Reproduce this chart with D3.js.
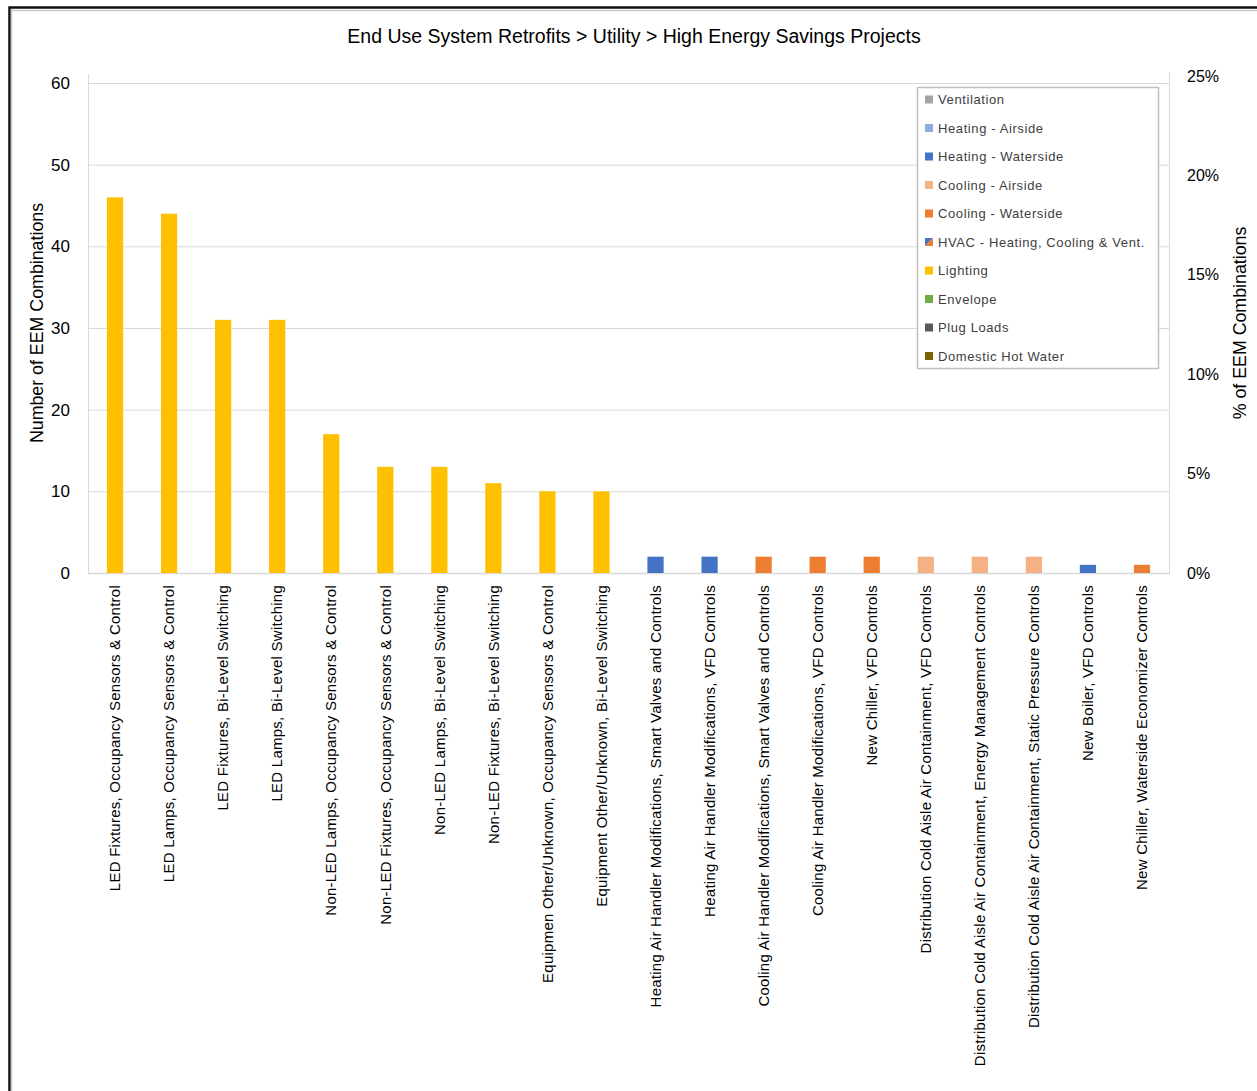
<!DOCTYPE html>
<html>
<head>
<meta charset="utf-8">
<script src="https://d3js.org/d3.v7.min.js"></script>
<style>
  body { margin: 0; background: #fff; }
  svg { display: block; }
</style>
</head>
<body>
<svg id="chart" width="1257" height="1091"></svg>
<script>
// ---------------------------
// DATA
// ---------------------------
var measures = [
  "LED Fixtures, Occupancy Sensors & Control",
  "LED Lamps, Occupancy Sensors & Control",
  "LED Fixtures, Bi-Level Switching",
  "LED Lamps, Bi-Level Switching",
  "Non-LED Lamps, Occupancy Sensors & Control",
  "Non-LED Fixtures, Occupancy Sensors & Control",
  "Non-LED Lamps, Bi-Level Switching",
  "Non-LED Fixtures, Bi-Level Switching",
  "Equipmen Other/Unknown, Occupancy Sensors & Control",
  "Equipment Other/Unknown, Bi-Level Switching",
  "Heating Air Handler Modifications, Smart Valves and Controls",
  "Heating Air Handler Modifications, VFD Controls",
  "Cooling Air Handler Modifications, Smart Valves and Controls",
  "Cooling Air Handler Modifications, VFD Controls",
  "New Chiller, VFD Controls",
  "Distribution Cold Aisle Air Containment, VFD Controls",
  "Distribution Cold Aisle Air Containment, Energy Management Controls",
  "Distribution Cold Aisle Air Containment, Static Pressure Controls",
  "New Boiler, VFD Controls",
  "New Chiller, Waterside Economizer Controls"
];
var counts = [46, 44, 31, 31, 17, 13, 13, 11, 10, 10, 2, 2, 2, 2, 2, 2, 2, 2, 1, 1];
var endUse = [
  "Lighting", "Lighting", "Lighting", "Lighting", "Lighting",
  "Lighting", "Lighting", "Lighting", "Lighting", "Lighting",
  "Heating - Waterside", "Heating - Waterside",
  "Cooling - Waterside", "Cooling - Waterside", "Cooling - Waterside",
  "Cooling - Airside", "Cooling - Airside", "Cooling - Airside",
  "Heating - Waterside", "Cooling - Waterside"
];
var legendNames = ["Ventilation", "Heating - Airside", "Heating - Waterside", "Cooling - Airside",
  "Cooling - Waterside", "HVAC - Heating, Cooling & Vent.", "Lighting", "Envelope",
  "Plug Loads", "Domestic Hot Water"];
var legendColours = ["#a5a5a5", "#8faadc", "#4472c4", "#f4b183", "#ed7d31", "hvac",
  "#ffc000", "#70ad47", "#595959", "#7f6000"];
var leftTicks = [0, 10, 20, 30, 40, 50, 60];
var rightTicks = [0, 0.05, 0.10, 0.15, 0.20, 0.25];

// ---------------------------
// CONSTANTS
// ---------------------------
var plotLeft = 88, plotRight = 1169, plotBottom = 573, plotTop = 83;
var myFont = "'Liberation Sans', Arial, sans-serif";
var gridColour = "#d9d9d9";

var svg = d3.select("#chart");

// frame
svg.append("rect").attr("x", 9.5).attr("y", 7.5).attr("width", 1300).attr("height", 1200)
  .attr("fill", "none").attr("stroke", "#111").attr("stroke-width", 2.5);
svg.append("line").attr("x1", 11.5).attr("x2", 11.5).attr("y1", 9).attr("y2", 1091)
  .attr("stroke", "#c8c8c8").attr("stroke-width", 1.5);
svg.append("line").attr("x1", 11).attr("x2", 1257).attr("y1", 10.5).attr("y2", 10.5)
  .attr("stroke", "#c8c8c8").attr("stroke-width", 1.5);

// scales
var x = d3.scaleBand().domain(measures).range([plotLeft, plotRight]).paddingInner(0.7).paddingOuter(0.35);
var y = d3.scaleLinear().domain([0, 60]).range([plotBottom, plotTop]);
var y2 = d3.scaleLinear().domain([0, 0.25]).range([plotBottom, 76]);
var colourOf = d3.scaleOrdinal().domain(legendNames).range(legendColours);

// gridlines
svg.append("g")
  .selectAll("line")
  .data(leftTicks.slice(1))
  .enter()
  .append("line")
  .attr("x1", plotLeft).attr("x2", plotRight)
  .attr("y1", function(d) { return y(d) + 0.5; })
  .attr("y2", function(d) { return y(d) + 0.5; })
  .attr("stroke", gridColour).attr("stroke-width", 1);

// axis lines
svg.append("line").attr("x1", plotLeft + 0.5).attr("x2", plotLeft + 0.5).attr("y1", 74).attr("y2", plotBottom)
  .attr("stroke", gridColour);
svg.append("line").attr("x1", plotRight + 0.5).attr("x2", plotRight + 0.5).attr("y1", 72).attr("y2", plotBottom)
  .attr("stroke", gridColour);
svg.append("line").attr("x1", plotLeft).attr("x2", plotRight + 1).attr("y1", plotBottom + 0.5).attr("y2", plotBottom + 0.5)
  .attr("stroke", gridColour).attr("stroke-width", 1.5);

// bars
svg.append("g")
  .selectAll("rect")
  .data(counts)
  .enter()
  .append("rect")
  .attr("x", function(d, i) { return x(measures[i]); })
  .attr("y", function(d) { return y(d); })
  .attr("width", x.bandwidth())
  .attr("height", function(d) { return plotBottom - y(d); })
  .attr("fill", function(d, i) { return colourOf(endUse[i]); });

// left axis
var leftAxis = svg.append("g")
  .attr("transform", "translate(" + (plotLeft - 18) + ",0)")
  .call(d3.axisLeft(y).tickValues(leftTicks).tickSize(0).tickPadding(0));
leftAxis.select(".domain").remove();
leftAxis.selectAll("text").attr("font-family", myFont).attr("font-size", 17).attr("fill", "#000");

// right axis
var rightAxis = svg.append("g")
  .attr("transform", "translate(" + (plotRight + 18) + ",0)")
  .call(d3.axisRight(y2).tickValues(rightTicks).tickSize(0).tickPadding(0).tickFormat(d3.format(".0%")));
rightAxis.select(".domain").remove();
rightAxis.selectAll("text").attr("font-family", myFont).attr("font-size", 16).attr("fill", "#000");

// x labels
var xAxis = svg.append("g")
  .attr("transform", "translate(0," + plotBottom + ")")
  .call(d3.axisBottom(x).tickSize(0).tickPadding(0));
xAxis.select(".domain").remove();
xAxis.selectAll("text")
  .attr("font-family", myFont).attr("font-size", 15).attr("fill", "#000")
  .attr("letter-spacing", "0.25px")
  .attr("text-anchor", "end")
  .attr("dy", "0.35em")
  .attr("transform", "translate(0,12) rotate(-90)")
  .attr("x", 0).attr("y", 0);

// title
svg.append("text")
  .attr("x", 634).attr("y", 43)
  .attr("text-anchor", "middle")
  .attr("font-family", myFont).attr("font-size", 19.5)
  .text("End Use System Retrofits > Utility > High Energy Savings Projects");

// axis titles
svg.append("text")
  .attr("transform", "translate(43,323) rotate(-90)")
  .attr("text-anchor", "middle")
  .attr("font-family", myFont).attr("font-size", 17.8)
  .text("Number of EEM Combinations");

svg.append("text")
  .attr("transform", "translate(1246,323) rotate(-90)")
  .attr("text-anchor", "middle")
  .attr("font-family", myFont).attr("font-size", 17.8)
  .text("% of EEM  Combinations");

// legend
var legendX = 917, legendY = 87, rowGap = 28.5;
svg.append("rect")
  .attr("x", legendX + 0.5).attr("y", legendY + 0.5)
  .attr("width", 241).attr("height", 281)
  .attr("fill", "#fff").attr("stroke", "#bfbfbf").attr("stroke-width", 1.5);

var legendRows = svg.append("g")
  .selectAll("g")
  .data(legendNames)
  .enter()
  .append("g")
  .attr("transform", function(d, i) { return "translate(" + (legendX + 8) + "," + (legendY + 12.5 + i * rowGap) + ")"; });

legendRows.each(function(d) {
  var g = d3.select(this);
  if (colourOf(d) === "hvac") {
    g.append("path").attr("d", "M0,-4 L8,-4 L0,4 Z").attr("fill", "#4472c4");
    g.append("path").attr("d", "M8,-4 L8,4 L0,4 Z").attr("fill", "#ed7d31");
  } else {
    g.append("rect").attr("x", 0).attr("y", -4).attr("width", 8).attr("height", 8).attr("fill", colourOf(d));
  }
});

legendRows.append("text")
  .attr("x", 13).attr("y", 0).attr("dy", "0.35em")
  .attr("font-family", myFont).attr("font-size", 13).attr("fill", "#404040")
  .attr("letter-spacing", "0.6px")
  .text(function(d) { return d; });
</script>
</body>
</html>
